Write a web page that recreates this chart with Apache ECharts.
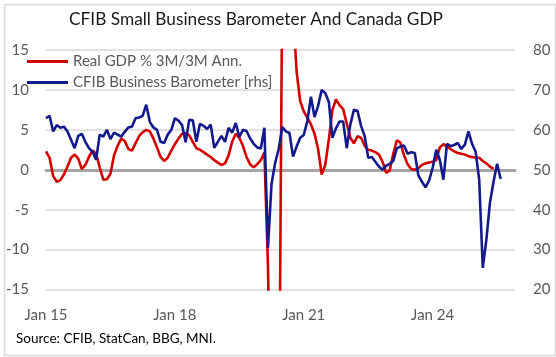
<!DOCTYPE html>
<html>
<head>
<meta charset="utf-8">
<script src="https://cdn.jsdelivr.net/npm/echarts@6/dist/echarts.min.js"></script>
<style>
html,body{margin:0;padding:0;background:#fff;}
#c{width:556px;height:357px;}
</style>
</head>
<body>
<div id="c"></div>
<script>
// ---- data (monthly, starting Jan 2015) ----
const startYear = 2015;
const endYear = 2025;
const monthNames = ['Jan','Feb','Mar','Apr','May','Jun','Jul','Aug','Sep','Oct','Nov','Dec'];
const xTickLabels = ['Jan 15','Jan 18','Jan 21','Jan 24'];
const leftTicks = [-15, 15, 5];   // min, max, interval
const rightTicks = [20, 80, 10];  // min, max, interval

const gdp3m3m = [
  2.3, 1.5, -0.8, -1.5, -1.3, -0.6, 0.4, 1.5, 1.9, 1.4, 0.1, 0.6,
  1.6, 2.4, 2.0, 0.3, -1.25, -1.2, -0.5, 1.8, 3.0, 3.9, 3.6, 2.6,
  2.4, 3.3, 4.2, 4.7, 5.0, 4.8, 3.9, 2.8, 1.6, 1.1, 1.5, 2.4,
  3.2, 3.9, 4.5, 4.6, 4.3, 3.5, 2.7, 2.5, 2.2, 1.9, 1.6, 1.2,
  0.9, 0.6, 0.8, 1.8, 3.5, 4.5, 4.0, 3.0, 1.6, 0.7, 0.3, 0.7,
  1.2, 2.2, -12, -38, -45, -40, 25, 45, 35, 20, 12.3, 8.6,
  7.3, 6.5, 5.7, 4.5, 2.6, -0.6, 0.6, 3.8, 7.5, 8.8, 8.1, 7.6,
  5.8, 4.0, 3.3, 4.2, 4.0, 3.0, 2.5, 2.4, 2.2, 1.9, 1.0, -0.4,
  -0.1, 2.0, 3.7, 3.4, 1.8, 0.7, 0.1, 0.0, 0.2, 0.6, 0.8, 0.9,
  1.0, 1.2, 2.8, 3.2, 2.9, 2.6, 2.3, 2.1, 2.0, 1.9, 1.7, 1.6,
  1.5, 1.5, 1.1, 0.8, 0.4, 0.1
];

const cfibBarometer = [
  62.9, 63.5, 59.6, 61.2, 60.5, 60.8, 59.6, 57.5, 55.4, 58.5, 59.0, 57.0,
  55.4, 54.5, 52.5, 58.8, 58.3, 60.0, 57.7, 59.3, 58.8, 58.3, 59.5, 60.6,
  60.8, 62.9, 63.1, 63.5, 66.3, 62.0, 60.6, 60.0, 57.0, 56.7, 58.8, 60.0,
  62.9, 62.3, 61.2, 56.9, 62.5, 62.4, 57.0, 61.5, 61.0, 60.2, 61.3, 55.5,
  57.0, 58.5, 57.0, 60.5, 59.3, 61.7, 58.2, 60.0, 59.7, 57.9, 56.5, 55.6,
  55.3, 60.5, 30.5, 46.5, 51.7, 55.2, 60.7, 59.6, 59.2, 53.3, 55.8, 58.0,
  58.7, 62.2, 68.3, 63.2, 66.0, 70.0, 69.2, 67.0, 58.0, 60.4, 62.1, 62.1,
  55.4, 61.3, 65.0, 64.8, 61.0, 58.5, 53.0, 53.2, 52.0, 50.8, 50.0, 51.0,
  51.5, 52.2, 55.4, 55.8, 56.1, 54.0, 54.4, 54.2, 48.6, 47.0, 45.6, 47.3,
  50.5, 55.0, 52.5, 47.5, 56.5, 55.9, 56.2, 56.7, 55.2, 56.3, 59.6, 56.5,
  54.5, 47.5, 25.4, 32.5, 41.7, 47.0, 51.5, 47.7
];

// ---- categories ----
const months = [];
for (let y = startYear; y <= endYear; y++) {
  for (let m = 0; m < 12; m++) {
    months.push(monthNames[m] + ' ' + String(y).slice(2));
  }
}

const FONT = 'Lato';
const GREY = '#595959';

const chart = echarts.init(document.getElementById('c'), null, {renderer: 'canvas'});
chart.setOption({
  animation: false,
  backgroundColor: '#ffffff',
  textStyle: {fontFamily: FONT},
  grid: {left: 46, right: 41, top: 50, bottom: 67.5, containLabel: false},
  graphic: [
    {type: 'rect', left: 2, top: 2, shape: {width: 551, height: 351},
     style: {fill: 'none', stroke: '#d9d9d9', lineWidth: 1.5}, silent: true, z: -10},
    {type: 'text', left: 69, top: 11,
     style: {text: 'CFIB Small Business Barometer And Canada GDP', fontFamily: FONT, fontSize: 17.3, fill: '#1a1a1a'}},
    {type: 'text', left: 16, top: 332,
     style: {text: 'Source: CFIB, StatCan, BBG, MNI.', fontFamily: FONT, fontSize: 13.5, fill: '#000000'}}
  ],
  legend: {
    orient: 'vertical',
    left: 22, top: 49,
    itemWidth: 41, itemHeight: 3,
    itemGap: 6,
    icon: 'rect',
    textStyle: {fontFamily: FONT, fontSize: 15, color: GREY, padding: [0, 0, 0, 0]},
    data: ['Real GDP % 3M/3M Ann.', 'CFIB Business Barometer [rhs]']
  },
  xAxis: [
    {
      type: 'category', data: months, boundaryGap: false, position: 'bottom',
      axisLine: {show: false, onZero: false},
      axisTick: {show: false},
      splitLine: {show: false},
      axisLabel: {
        margin: 18, fontFamily: FONT, fontSize: 15, color: GREY,
        interval: (idx, val) => xTickLabels.indexOf(val) >= 0,
        formatter: v => v
      }
    },
    {
      type: 'category', data: months, boundaryGap: false, position: 'top',
      axisLine: {show: true, onZero: true, onZeroAxisIndex: 0, lineStyle: {color: '#a6a6a6', width: 3}},
      axisTick: {show: false}, axisLabel: {show: false}, splitLine: {show: false}
    }
  ],
  yAxis: [
    {
      type: 'value', min: leftTicks[0], max: leftTicks[1], interval: leftTicks[2],
      axisLine: {show: false}, axisTick: {show: false},
      splitLine: {lineStyle: {color: '#d9d9d9', width: 1.5}},
      axisLabel: {margin: 17, fontFamily: FONT, fontSize: 15, color: GREY}
    },
    {
      type: 'value', min: rightTicks[0], max: rightTicks[1], interval: rightTicks[2],
      position: 'right',
      axisLine: {show: false}, axisTick: {show: false},
      splitLine: {show: false},
      axisLabel: {margin: 18, fontFamily: FONT, fontSize: 15, color: GREY}
    }
  ],
  series: [
    {
      name: 'Real GDP % 3M/3M Ann.', type: 'line', xAxisIndex: 0, yAxisIndex: 0,
      data: gdp3m3m, showSymbol: false, symbol: 'none', clip: true,
      lineStyle: {color: '#d40000', width: 2.6}, itemStyle: {color: '#d40000'}, z: 3
    },
    {
      name: 'CFIB Business Barometer [rhs]', type: 'line', xAxisIndex: 0, yAxisIndex: 1,
      data: cfibBarometer, showSymbol: false, symbol: 'none', clip: true,
      lineStyle: {color: '#141a8c', width: 2.6}, itemStyle: {color: '#141a8c'}, z: 4
    }
  ]
});
</script>
</body>
</html>
